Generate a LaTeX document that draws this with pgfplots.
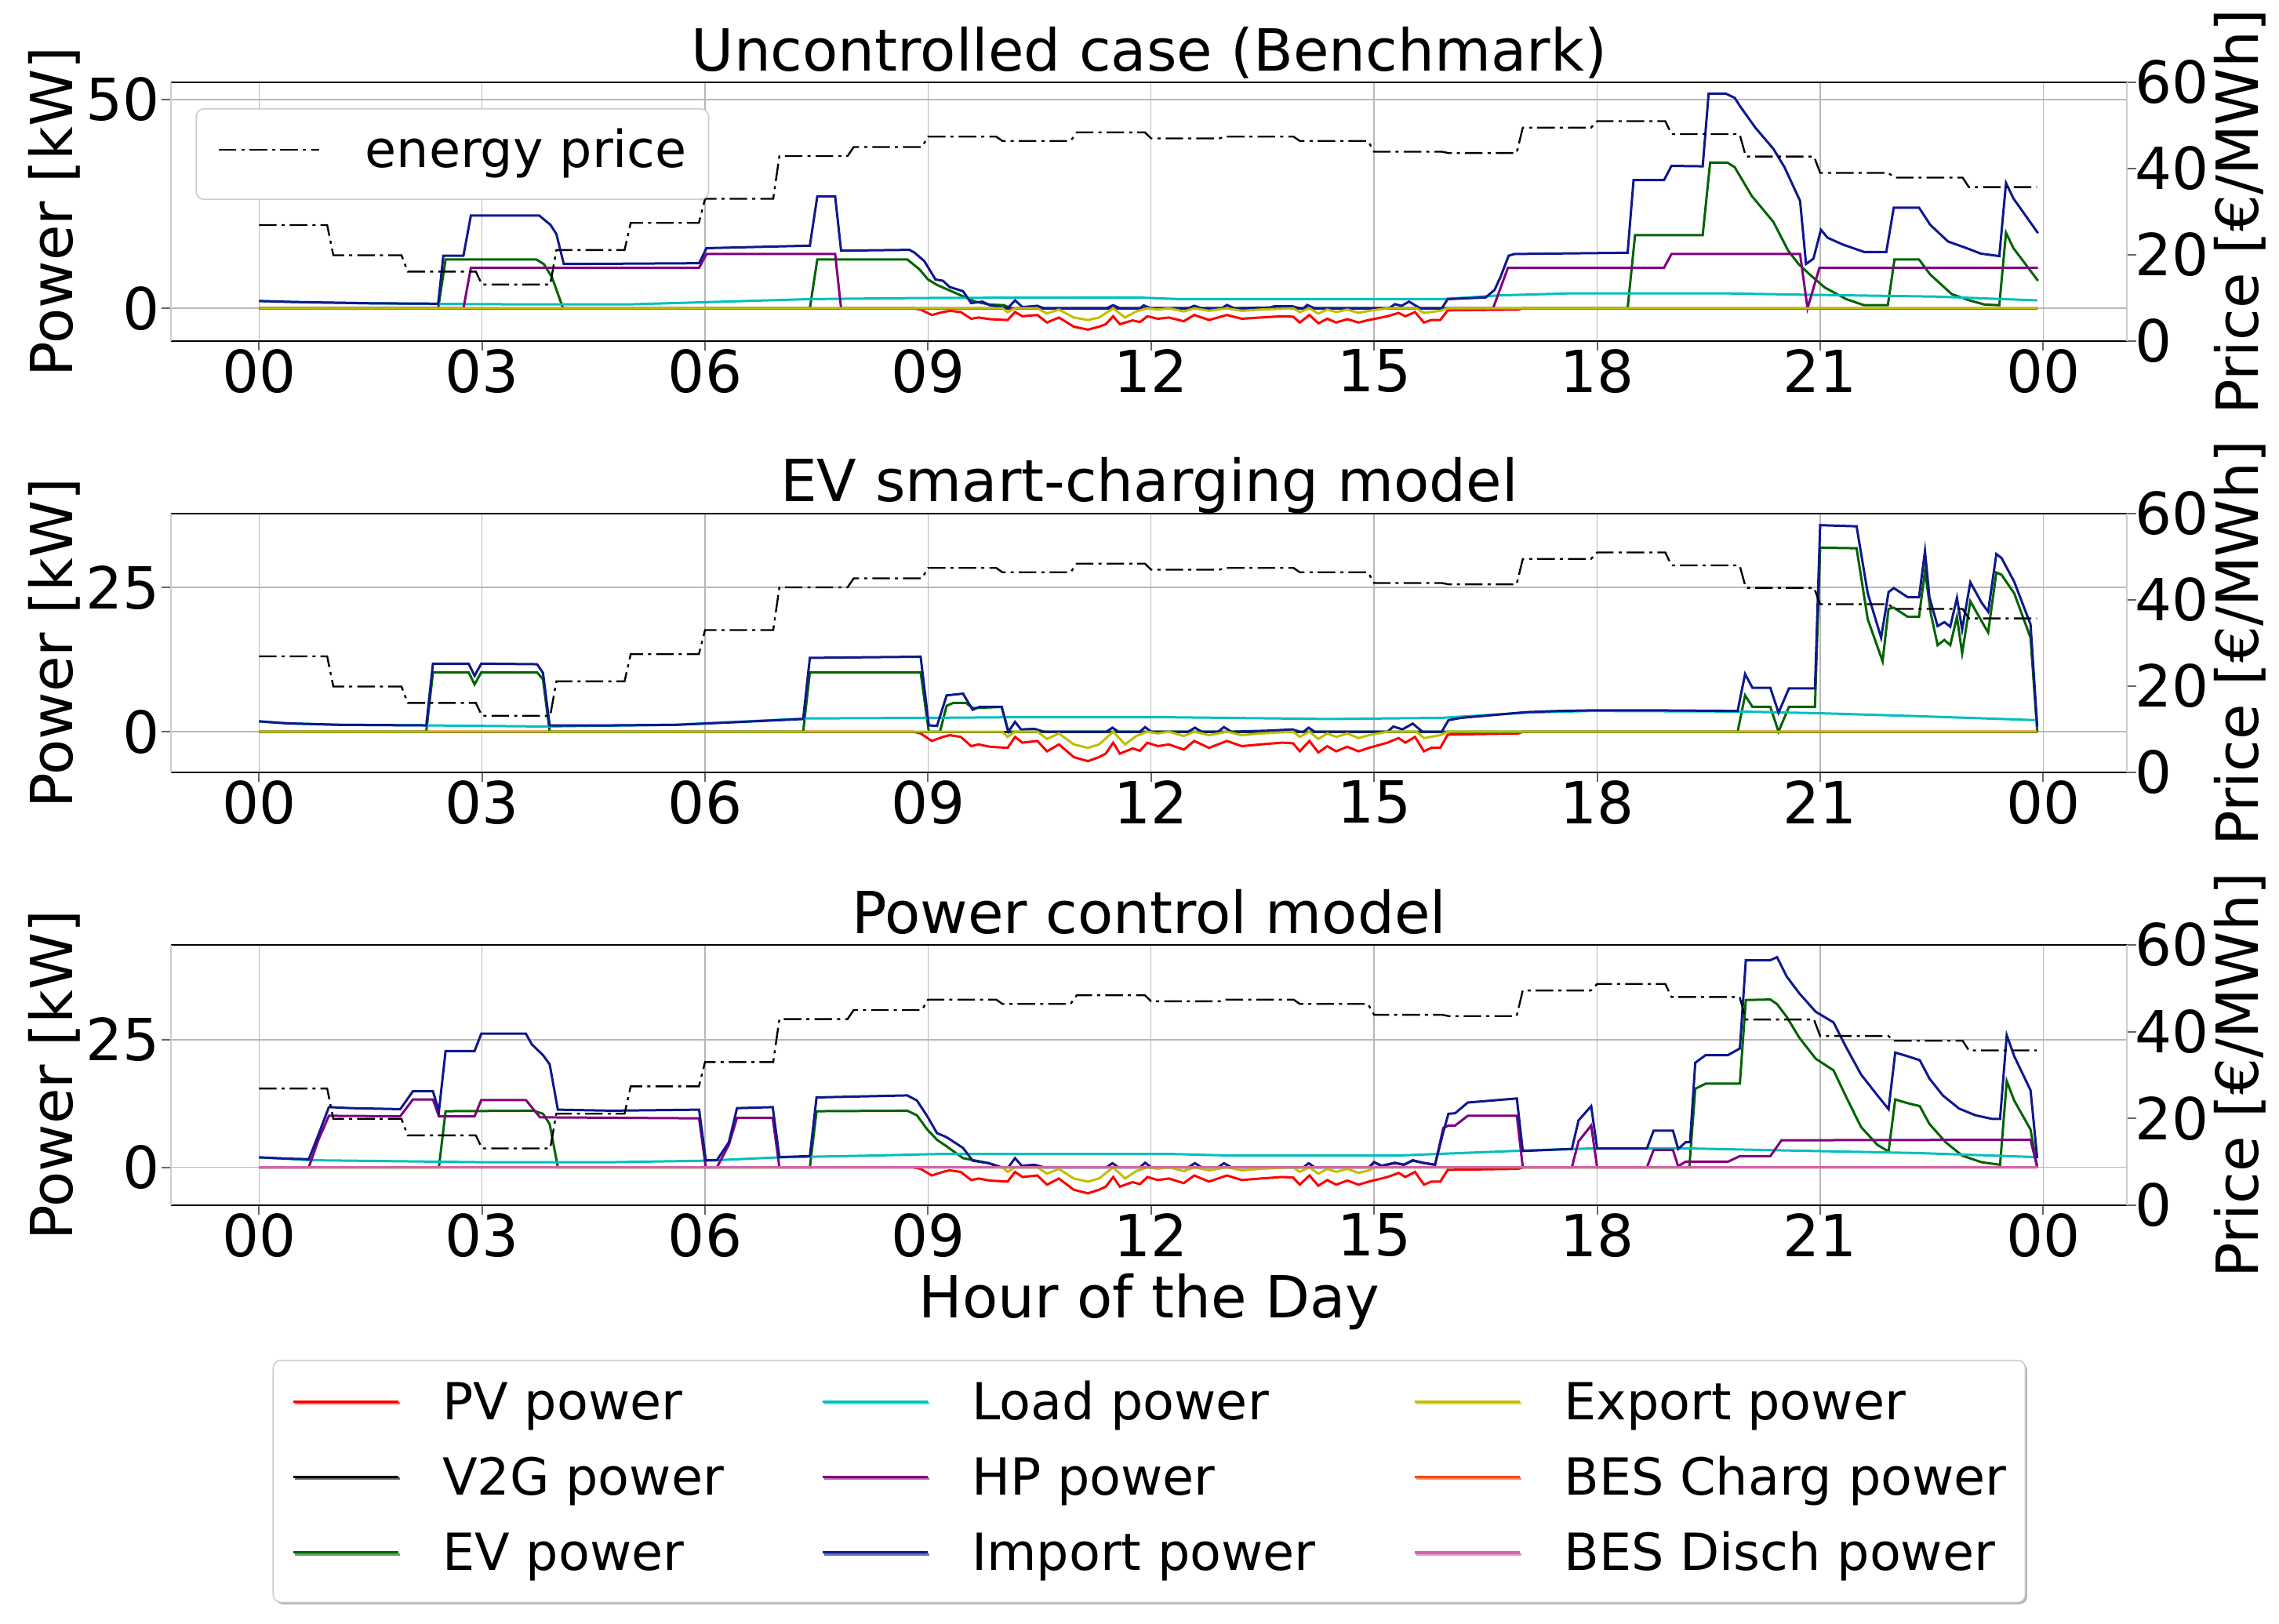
\documentclass[border=0pt]{standalone}
\usepackage{pgfplots}
\pgfplotsset{compat=1.18}
\usepackage{fontspec}
\setmainfont{DejaVu Sans}
\usetikzlibrary{shadows}
\newcommand{\fs}{\fontsize{18.5}{22}\selectfont}
\newcommand{\lfs}{\fontsize{16.3}{19.5}\selectfont}
\definecolor{cPV}{RGB}{255,0,0}
\definecolor{cEV}{RGB}{0,100,0}
\definecolor{cLoad}{RGB}{0,191,191}
\definecolor{cHP}{RGB}{128,0,128}
\definecolor{cImp}{RGB}{15,25,140}
\definecolor{cExp}{RGB}{191,191,0}
\definecolor{cBC}{RGB}{255,69,0}
\definecolor{cBD}{RGB}{212,100,170}
\pgfplotsset{
  common/.style={scale only axis, width=623.5pt, anchor=south west,
    xmin=-1.18, xmax=25.13,
    /pgf/number format/assume math mode=true,
    tick label style={font=\fs},
    tick align=outside, major tick length=3pt,
    tick style={black!60, line width=0.5pt}},
  powerax/.style={common,
    xtick={0,3,...,24}, xticklabels={00,03,06,09,12,15,18,21,00},
    xtick pos=left, ytick pos=left,
    xmajorgrids, ymajorgrids, grid style={line width=0.35pt, black!28},
    separate axis lines,
    x axis line style={black, line width=0.6pt},
    y axis line style={black!20, line width=0.5pt},
    xticklabel style={anchor=north, inner sep=0pt, yshift=0.6pt},
    yticklabel style={anchor=east, inner sep=0pt, xshift=-0.6pt},
    ylabel={Power [kW]},
    every axis y label/.style={at={(axis description cs:-0.0597,0.5)}, anchor=center, rotate=90, font=\fs},
    every axis title/.style={at={(axis description cs:0.5,1)}, anchor=base, yshift=3.75pt, inner sep=0pt, font=\fs},
    every axis x label/.style={at={(axis description cs:0.5,0)}, anchor=base, yshift=-35.75pt, inner sep=0pt, font=\fs},
    every axis plot/.append style={line width=0.75pt}},
  priceax/.style={common, axis x line=none, axis y line*=right,
    ymin=0, ymax=60, ytick={0,20,40,60},
    y axis line style={black!20, line width=0.5pt},
    yticklabel style={anchor=west, inner sep=0pt, xshift=-0.6pt},
    ylabel={Price [€/MWh]},
    every axis y label/.style={at={(axis description cs:1.0577,0.5)}, anchor=center, rotate=90, font=\fs}},
  pricestyle/.style={black, line width=0.6pt, dash pattern=on 5.6pt off 1.6pt on 1pt off 1.6pt},
  sPV/.style={cPV, line width=0.75pt},
  sV2G/.style={black, line width=0.75pt},
  sEV/.style={cEV, line width=0.75pt},
  sLoad/.style={cLoad, line width=0.75pt},
  sHP/.style={cHP, line width=0.75pt},
  sImp/.style={cImp, line width=0.75pt},
  sExp/.style={cExp, line width=0.75pt},
  sBC/.style={cBC, line width=0.75pt},
  sBD/.style={cBD, line width=0.9pt},
}
\newcommand{\pricedata}{(0,26.9)(0.917,26.9)(1,19.9)(1.917,19.9)(2,16.1)(2.917,16.1)(3,13.1)(3.917,13.1)(4,21.1)(4.917,21.1)(5,27.4)(5.917,27.4)(6,33.0)(6.917,33.0)(7,42.9)(7.917,42.9)(8,45.0)(8.917,45.0)(9,47.4)(9.917,47.4)(10,46.4)(10.917,46.4)(11,48.4)(11.917,48.4)(12,47.0)(12.917,47.0)(13,47.4)(13.917,47.4)(14,46.4)(14.917,46.4)(15,43.9)(15.917,43.9)(16,43.6)(16.917,43.6)(17,49.5)(17.917,49.5)(18,51.0)(18.917,51.0)(19,48.0)(19.917,48.0)(20,42.8)(20.917,42.8)(21,39.0)(21.917,39.0)(22,37.9)(22.917,37.9)(23,35.7)(23.917,35.7)}
\begin{document}
\begin{tikzpicture}
\path[use as bounding box] (0,0) rectangle (726.5pt,517.5pt);
% ================= Panel 1 =================
\begin{axis}[powerax, at={(54.6pt,408.75pt)}, height=82.5pt,
  ymin=-7.85, ymax=54.1, ytick={0,50},
  title={Uncontrolled case (Benchmark)}]
\addplot[sPV] coordinates {(0,0)(8.8,0)(8.9,-0.3)(9.05,-1.6)(9.2,-0.9)(9.29,-0.6)(9.44,-0.9)(9.58,-2.5)(9.68,-2.2)(9.83,-2.6)(10.07,-2.8)(10.17,-0.9)(10.27,-1.9)(10.47,-1.6)(10.6,-3.4)(10.76,-2.2)(10.96,-4.4)(11.15,-5.1)(11.3,-4.4)(11.39,-3.8)(11.49,-1.9)(11.58,-3.8)(11.75,-2.9)(11.85,-3.3)(11.95,-1.9)(12.09,-2.5)(12.24,-2.2)(12.44,-3.1)(12.58,-1.6)(12.78,-2.8)(13.02,-1.6)(13.22,-2.5)(13.47,-2.2)(13.76,-1.9)(13.91,-2.0)(14.0,-3.4)(14.13,-1.6)(14.25,-3.6)(14.37,-2.5)(14.49,-3.4)(14.64,-2.6)(14.79,-3.4)(14.93,-2.8)(15.18,-1.9)(15.33,-1.1)(15.42,-1.9)(15.55,-0.9)(15.67,-3.4)(15.77,-2.8)(15.89,-2.8)(15.99,-0.5)(16.94,-0.3)(17.0,0)(23.92,0)};
\addplot[sV2G] coordinates {(0,0)(23.92,0)};
\addplot[sEV] coordinates {(0,0)(2.41,0)(2.51,11.7)(3.73,11.7)(3.83,10.6)(3.94,7.5)(4.09,0)(7.41,0)(7.51,11.7)(8.72,11.7)(8.88,9.4)(9.0,6.9)(9.12,5.6)(9.48,2.8)(9.63,1.6)(9.83,0.9)(10.02,0.75)(10.12,0)(18.41,0)(18.51,17.5)(19.42,17.5)(19.52,34.9)(19.75,34.9)(19.85,33.8)(20.08,26.9)(20.37,20.7)(20.57,13.8)(20.71,10.6)(20.86,8.1)(21.06,5.0)(21.35,2.2)(21.59,0.75)(21.91,0.75)(22.0,11.7)(22.33,11.7)(22.48,8.1)(22.77,3.4)(23.01,1.9)(23.21,0.9)(23.41,0.75)(23.5,18.1)(23.6,14.4)(23.93,6.6)};
\addplot[sLoad] coordinates {(0,1.75)(0.5,1.5)(1.5,1.2)(2.4,1.05)(3.5,0.95)(5.0,0.95)(6.26,1.6)(7.41,2.2)(8.5,2.4)(9.2,2.5)(11.8,2.6)(12.39,2.2)(15.91,2.2)(16.7,3.1)(17.68,3.6)(19.64,3.6)(20.62,3.3)(22.57,2.8)(23.92,1.9)};
\addplot[sHP] coordinates {(0,0)(2.75,0)(2.85,9.7)(5.92,9.7)(6.02,13.0)(7.75,13.0)(7.83,0)(16.6,0)(16.8,9.7)(18.9,9.7)(19.0,13.0)(20.73,13.0)(20.83,0)(20.99,9.7)(23.93,9.7)};
\addplot[sImp] coordinates {(0,1.75)(0.5,1.5)(1.5,1.2)(2.41,1.1)(2.48,12.6)(2.75,12.6)(2.85,22.2)(3.77,22.2)(3.92,20.0)(4.0,17.8)(4.1,10.6)(5.92,10.8)(6.02,14.4)(7.41,15.0)(7.51,26.8)(7.75,26.8)(7.83,13.8)(8.75,14.0)(8.82,13.3)(8.95,11.3)(9.1,6.9)(9.2,6.6)(9.29,5.1)(9.47,4.1)(9.58,1.25)(9.73,1.6)(9.83,0.75)(10.07,0)(10.17,1.9)(10.27,0.3)(10.47,0.6)(10.56,0)(11.4,0)(11.49,0.75)(11.58,0)(11.85,0)(11.9,0.7)(12.0,0)(12.5,0)(12.58,0.6)(12.68,0)(12.95,0)(13.02,0.8)(13.12,0)(13.6,0.2)(13.66,0.5)(13.9,0.5)(14.0,0)(14.05,0)(14.1,0.8)(14.2,0)(15.2,0)(15.28,1.0)(15.37,0.6)(15.47,1.6)(15.62,0)(15.91,0)(15.99,2.2)(16.5,2.6)(16.62,4.4)(16.7,7.5)(16.81,12.6)(16.89,13.0)(18.41,13.3)(18.49,30.7)(18.9,30.7)(19.0,34.1)(19.42,34.0)(19.5,51.4)(19.73,51.4)(19.85,50.4)(19.93,48.2)(20.13,43.2)(20.37,38.2)(20.52,33.8)(20.73,25.7)(20.81,10.6)(20.91,11.9)(21.01,18.8)(21.1,16.9)(21.3,15.3)(21.59,13.5)(21.89,13.5)(21.99,24.1)(22.33,24.1)(22.48,20.0)(22.72,16.0)(22.97,14.4)(23.16,13.1)(23.41,12.5)(23.5,30.0)(23.6,26.3)(23.93,18.0)};
\addplot[sExp] coordinates {(0,0)(10.0,0)(10.07,-0.9)(10.17,0)(10.47,0)(10.6,-1.25)(10.76,-0.3)(10.96,-2.2)(11.15,-2.8)(11.3,-2.2)(11.49,0)(11.65,-2.2)(11.8,-0.75)(11.95,0)(12.09,-0.3)(12.24,0)(12.44,-0.75)(12.58,0)(12.78,-0.6)(13.02,0)(13.22,-0.6)(13.47,-0.3)(13.91,0)(14.0,-0.9)(14.13,0)(14.25,-1.25)(14.37,-0.3)(14.49,-0.9)(14.64,-0.3)(14.79,-1.1)(14.93,-0.6)(15.18,0)(15.57,0)(15.67,-1.1)(15.89,-0.6)(15.99,0)(23.92,0)};
\end{axis}
\begin{axis}[priceax, at={(54.6pt,408.75pt)}, height=82.5pt,
  legend style={at={(axis description cs:0.0124,0.9)}, anchor=north west, font=\lfs,
    draw=black!20, rounded corners=2.5pt, inner xsep=6.9pt, inner ysep=6.3pt,
    nodes={inner sep=0pt, text height=12.4pt, text depth=3.85pt},
    /tikz/every odd column/.append style={column sep=14.4pt}},
  legend cell align=left,
  legend image code/.code={\draw[#1] (0pt,1.4pt) -- (32pt,1.4pt);}]
\addplot[pricestyle] coordinates {\pricedata};
\addlegendentry{energy price}
\end{axis}
% ================= Panel 2 =================
\begin{axis}[powerax, at={(54.6pt,271.25pt)}, height=82.5pt,
  ymin=-7.05, ymax=37.8, ytick={0,25},
  title={EV smart-charging model}]
\addplot[sPV] coordinates {(0,0)(8.8,0)(8.9,-0.3)(9.05,-1.6)(9.2,-0.9)(9.29,-0.6)(9.44,-0.9)(9.58,-2.5)(9.68,-2.2)(9.83,-2.6)(10.07,-2.8)(10.17,-0.9)(10.27,-1.9)(10.47,-1.6)(10.6,-3.4)(10.76,-2.2)(10.96,-4.4)(11.15,-5.1)(11.3,-4.4)(11.39,-3.8)(11.49,-1.9)(11.58,-3.8)(11.75,-2.9)(11.85,-3.3)(11.95,-1.9)(12.09,-2.5)(12.24,-2.2)(12.44,-3.1)(12.58,-1.6)(12.78,-2.8)(13.02,-1.6)(13.22,-2.5)(13.47,-2.2)(13.76,-1.9)(13.91,-2.0)(14.0,-3.4)(14.13,-1.6)(14.25,-3.6)(14.37,-2.5)(14.49,-3.4)(14.64,-2.6)(14.79,-3.4)(14.93,-2.8)(15.18,-1.9)(15.33,-1.1)(15.42,-1.9)(15.55,-0.9)(15.67,-3.4)(15.77,-2.8)(15.89,-2.8)(15.99,-0.5)(16.94,-0.3)(17.0,0)(23.92,0)};
\addplot[sV2G] coordinates {(0,0)(23.92,0)};
\addplot[sEV] coordinates {(0,0)(2.25,0)(2.34,10.3)(2.82,10.3)(2.9,8.2)(2.99,10.3)(3.74,10.3)(3.82,9.1)(3.91,0)(7.32,0)(7.41,10.3)(8.9,10.3)(9.01,0)(9.16,0)(9.25,4.5)(9.34,5.0)(9.51,5.0)(9.6,4.1)(9.99,4.3)(10.08,0)(19.89,0)(19.99,6.3)(20.09,4.3)(20.33,4.3)(20.44,0)(20.58,4.3)(20.93,4.3)(21.0,31.9)(21.49,31.8)(21.64,19.5)(21.84,12.2)(21.92,21.3)(21.99,21.5)(22.18,19.9)(22.33,19.9)(22.41,27.9)(22.49,20.4)(22.58,15.0)(22.67,15.9)(22.75,15.0)(22.84,19.9)(22.91,13.6)(23.02,22.6)(23.17,19.2)(23.26,17.2)(23.37,27.6)(23.44,27.2)(23.61,24.0)(23.83,16.3)(23.92,0)};
\addplot[sLoad] coordinates {(0,1.8)(0.4,1.45)(1.1,1.2)(2.25,1.1)(3.87,0.9)(5.6,1.2)(7.37,2.3)(9.0,2.4)(10.0,2.5)(12.3,2.5)(14.4,2.2)(15.9,2.4)(17.05,3.3)(17.92,3.6)(19.9,3.5)(21.0,3.2)(22.3,2.7)(23.92,2.0)};
\addplot[sImp] coordinates {(0,1.8)(0.37,1.45)(1.07,1.2)(2.25,1.1)(2.34,11.8)(2.82,11.8)(2.9,9.7)(2.99,11.8)(3.74,11.7)(3.82,10.2)(3.91,1.1)(4.74,1.1)(5.62,1.2)(6.49,1.7)(7.32,2.2)(7.41,12.8)(8.9,13.0)(9.01,1.1)(9.12,1.0)(9.25,6.3)(9.47,6.6)(9.6,3.8)(9.69,4.3)(9.99,4.3)(10.08,0)(10.17,1.7)(10.25,0.4)(10.43,0.5)(10.56,0)(11.4,0)(11.48,0.7)(11.56,0)(11.85,0)(11.92,0.8)(12.0,0)(12.5,0)(12.59,0.7)(12.68,0)(12.9,0)(12.98,0.8)(13.08,0)(13.6,0.2)(13.9,0.4)(14.0,0)(14.05,0)(14.12,0.7)(14.2,0)(15.18,0)(15.26,0.9)(15.38,0.4)(15.52,1.4)(15.65,0)(15.91,0)(16.0,2.0)(16.17,2.4)(16.61,2.9)(17.05,3.4)(17.49,3.6)(17.92,3.7)(18.8,3.7)(19.89,3.6)(19.99,10.0)(20.09,7.6)(20.33,7.6)(20.44,3.3)(20.58,7.5)(20.93,7.5)(21.0,35.8)(21.49,35.6)(21.64,24.0)(21.82,16.3)(21.92,24.2)(21.99,24.9)(22.18,23.3)(22.33,23.3)(22.41,31.3)(22.47,23.3)(22.58,18.3)(22.67,19.0)(22.75,18.2)(22.84,23.2)(22.91,17.7)(23.02,25.9)(23.17,22.4)(23.26,20.8)(23.37,30.8)(23.44,30.1)(23.61,26.0)(23.83,18.6)(23.92,0.9)};
\addplot[sExp] coordinates {(0,0)(10.0,0)(10.07,-0.9)(10.17,0)(10.47,0)(10.6,-1.25)(10.76,-0.3)(10.96,-2.2)(11.15,-2.8)(11.3,-2.2)(11.49,0)(11.65,-2.2)(11.8,-0.75)(11.95,0)(12.09,-0.3)(12.24,0)(12.44,-0.75)(12.58,0)(12.78,-0.6)(13.02,0)(13.22,-0.6)(13.47,-0.3)(13.91,0)(14.0,-0.9)(14.13,0)(14.25,-1.25)(14.37,-0.3)(14.49,-0.9)(14.64,-0.3)(14.79,-1.1)(14.93,-0.6)(15.18,0)(15.57,0)(15.67,-1.1)(15.89,-0.6)(15.99,0)(23.92,0)};
\end{axis}
\begin{axis}[priceax, at={(54.6pt,271.25pt)}, height=82.5pt]
\addplot[pricestyle] coordinates {\pricedata};
\end{axis}
% ================= Panel 3 =================
\begin{axis}[powerax, at={(54.6pt,133.25pt)}, height=83pt,
  ymin=-7.44, ymax=43.6, ytick={0,25},
  title={Power control model}, xlabel={Hour of the Day},
  legend columns=3,
  legend style={at={(axis description cs:0.5,-0.5934)}, anchor=north, font=\lfs,
    draw=black!20, rounded corners=2.5pt, inner xsep=6pt, inner ysep=6.4pt,
    row sep=7.8pt,
    nodes={inner sep=0pt, text height=12.4pt, text depth=3.85pt},
    /tikz/every odd column/.append style={column sep=13.75pt},
    /tikz/every even column/.append style={column sep=31pt},
    drop shadow={shadow xshift=0.6pt, shadow yshift=-0.6pt, opacity=0.6}},
  legend cell align=left,
  legend image code/.code={\draw[#1] (0pt,1.4pt) -- (33.5pt,1.4pt);}]
\addlegendimage{sPV}\addlegendentry{PV power}
\addlegendimage{sLoad}\addlegendentry{Load power}
\addlegendimage{sExp}\addlegendentry{Export power}
\addlegendimage{sV2G}\addlegendentry{V2G power}
\addlegendimage{sHP}\addlegendentry{HP power}
\addlegendimage{sBC}\addlegendentry{BES Charg power}
\addlegendimage{sEV}\addlegendentry{EV power}
\addlegendimage{sImp}\addlegendentry{Import power}
\addlegendimage{sBD}\addlegendentry{BES Disch power}
\addplot[sPV, forget plot] coordinates {(0,0)(8.8,0)(8.9,-0.3)(9.05,-1.6)(9.2,-0.9)(9.29,-0.6)(9.44,-0.9)(9.58,-2.5)(9.68,-2.2)(9.83,-2.6)(10.07,-2.8)(10.17,-0.9)(10.27,-1.9)(10.47,-1.6)(10.6,-3.4)(10.76,-2.2)(10.96,-4.4)(11.15,-5.1)(11.3,-4.4)(11.39,-3.8)(11.49,-1.9)(11.58,-3.8)(11.75,-2.9)(11.85,-3.3)(11.95,-1.9)(12.09,-2.5)(12.24,-2.2)(12.44,-3.1)(12.58,-1.6)(12.78,-2.8)(13.02,-1.6)(13.22,-2.5)(13.47,-2.2)(13.76,-1.9)(13.91,-2.0)(14.0,-3.4)(14.13,-1.6)(14.25,-3.6)(14.37,-2.5)(14.49,-3.4)(14.64,-2.6)(14.79,-3.4)(14.93,-2.8)(15.18,-1.9)(15.33,-1.1)(15.42,-1.9)(15.55,-0.9)(15.67,-3.4)(15.77,-2.8)(15.89,-2.8)(15.99,-0.5)(16.94,-0.3)(17.0,0)(23.92,0)};
\addplot[sV2G, forget plot] coordinates {(0,0)(23.92,0)};
\addplot[sEV, forget plot] coordinates {(0,0)(2.42,0)(2.51,11.0)(3.69,11.1)(3.82,10.5)(3.91,8.5)(4.02,0)(7.41,0)(7.5,11.0)(8.72,11.1)(8.85,10.2)(8.99,7.4)(9.12,5.4)(9.25,4.1)(9.47,1.8)(9.82,0.8)(9.96,0)(19.24,0)(19.32,15.4)(19.46,16.4)(19.92,16.4)(20.0,32.8)(20.33,32.9)(20.42,32.0)(20.55,29.5)(20.72,25.4)(20.94,21.3)(21.18,19.0)(21.34,14.1)(21.55,7.9)(21.77,4.4)(21.92,3.1)(22.01,13.3)(22.17,12.6)(22.34,12.0)(22.47,8.5)(22.69,4.9)(22.91,2.3)(23.17,1.0)(23.42,0.5)(23.51,16.9)(23.61,13.1)(23.83,7.4)(23.92,0)};
\addplot[sLoad, forget plot] coordinates {(0,1.95)(0.37,1.7)(0.67,1.4)(1.24,1.3)(3.0,1.0)(4.74,1.0)(6.0,1.3)(7.0,1.95)(8.24,2.3)(9.12,2.6)(12.3,2.6)(13.1,2.3)(15.3,2.3)(17.05,3.3)(17.92,3.7)(19.24,3.7)(20.55,3.3)(22.3,2.8)(23.92,2.0)};
\addplot[sHP, forget plot] coordinates {(0,0)(0.67,0)(0.8,5.4)(0.94,10.1)(1.9,10.0)(2.07,13.3)(2.34,13.3)(2.42,10.0)(2.9,10.0)(2.99,13.2)(3.59,13.2)(3.78,9.8)(5.92,9.6)(6.01,0)(6.16,0)(6.32,4.4)(6.43,9.7)(6.91,9.7)(7.0,0)(14.93,0)(15.0,1.0)(15.1,0.3)(15.28,0.8)(15.4,0.5)(15.52,1.3)(15.65,0.9)(15.82,0.5)(15.93,7.7)(16.0,8.2)(16.09,8.2)(16.26,10.1)(16.92,10.1)(17.0,0)(17.66,0)(17.75,5.1)(17.92,8.2)(18.0,0)(18.67,0)(18.76,3.4)(19.02,3.4)(19.09,0.2)(19.19,1.1)(19.76,1.1)(19.92,2.2)(20.33,2.2)(20.48,5.3)(23.83,5.4)(23.92,0)};
\addplot[sImp, forget plot] coordinates {(0,1.95)(0.37,1.7)(0.67,1.6)(0.8,6.4)(0.94,11.8)(1.24,11.6)(1.9,11.4)(2.07,14.9)(2.34,14.9)(2.42,11.0)(2.51,22.8)(2.9,22.8)(2.99,26.2)(3.59,26.2)(3.67,24.1)(3.82,22.0)(3.91,20.2)(4.02,11.3)(4.74,11.1)(5.92,11.3)(6.01,1.4)(6.16,1.4)(6.32,4.9)(6.43,11.6)(6.91,11.8)(7.0,2.0)(7.41,2.2)(7.5,13.7)(8.72,14.1)(8.85,13.1)(8.99,10.0)(9.12,6.7)(9.25,5.9)(9.47,3.8)(9.6,1.3)(9.82,0.8)(9.99,0)(10.08,0)(10.17,1.8)(10.26,0.3)(10.43,0.5)(10.56,0)(11.4,0)(11.48,0.8)(11.56,0)(11.85,0)(11.92,0.9)(12.0,0)(12.5,0)(12.59,0.8)(12.68,0)(12.9,0)(12.98,0.8)(13.08,0)(14.05,0)(14.12,0.8)(14.2,0)(14.93,0)(15.0,1.0)(15.1,0.3)(15.28,0.9)(15.4,0.5)(15.52,1.4)(15.65,0.9)(15.82,0.5)(15.93,6.9)(16.0,10.5)(16.09,10.6)(16.26,12.7)(16.92,13.5)(17.0,3.2)(17.66,3.6)(17.75,9.2)(17.92,12.0)(18.0,3.7)(18.67,3.7)(18.76,7.2)(19.02,7.2)(19.09,3.6)(19.19,4.9)(19.25,4.9)(19.32,20.5)(19.46,22.0)(19.76,22.0)(19.92,23.3)(20.0,40.6)(20.33,40.6)(20.42,41.2)(20.55,37.4)(20.72,34.1)(20.94,30.5)(21.18,28.4)(21.34,23.8)(21.55,18.2)(21.77,14.1)(21.92,11.4)(22.01,22.5)(22.17,21.8)(22.34,21.0)(22.47,17.4)(22.65,14.1)(22.87,11.5)(23.09,10.2)(23.31,9.5)(23.42,9.5)(23.51,25.9)(23.61,21.8)(23.83,15.1)(23.92,1.8)};
\addplot[sExp, forget plot] coordinates {(0,0)(10.0,0)(10.07,-0.9)(10.17,0)(10.47,0)(10.6,-1.25)(10.76,-0.3)(10.96,-2.2)(11.15,-2.8)(11.3,-2.2)(11.49,0)(11.65,-2.2)(11.8,-0.75)(11.95,0)(12.09,-0.3)(12.24,0)(12.44,-0.75)(12.58,0)(12.78,-0.6)(13.02,0)(13.22,-0.6)(13.47,-0.3)(13.91,0)(14.0,-0.9)(14.13,0)(14.25,-1.25)(14.37,-0.3)(14.49,-0.9)(14.64,-0.3)(14.79,-1.1)(14.93,-0.6)(15.0,0)(23.92,0)};
\addplot[sBC, forget plot] coordinates {(0,0)(23.92,0)};
\addplot[sBD, forget plot] coordinates {(0,0)(23.92,0)};
\end{axis}
\begin{axis}[priceax, at={(54.6pt,133.25pt)}, height=83pt]
\addplot[pricestyle] coordinates {\pricedata};
\end{axis}
\end{tikzpicture}
\end{document}
